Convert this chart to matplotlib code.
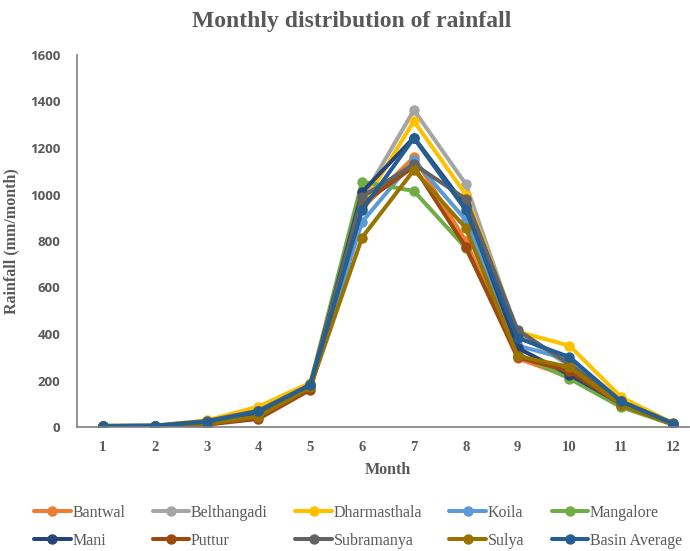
import matplotlib
matplotlib.use("Agg")
import matplotlib.pyplot as plt

months = list(range(1, 13))
stations = ["Bantwal", "Belthangadi", "Dharmasthala", "Koila", "Mangalore",
            "Mani", "Puttur", "Subramanya", "Sulya", "Basin Average"]

bantwal      = [4, 4, 15, 55, 165, 940, 1161, 800, 295, 215, 95, 12]
belthangadi  = [5, 5, 25, 75, 185, 980, 1363, 1045, 400, 265, 115, 15]
dharmasthala = [5, 6, 28, 88, 190, 950, 1316, 1000, 410, 350, 128, 16]
koila        = [4, 5, 22, 60, 180, 882, 1148, 890, 350, 290, 105, 14]
mangalore    = [3, 3, 12, 45, 185, 1055, 1015, 770, 315, 208, 85, 10]
mani         = [4, 5, 20, 60, 178, 1010, 1245, 950, 340, 225, 100, 13]
puttur       = [3, 4, 10, 35, 160, 960, 1120, 774, 300, 240, 95, 11]
subramanya   = [5, 6, 26, 70, 182, 990, 1130, 981, 417, 270, 110, 16]
sulya        = [4, 4, 14, 45, 170, 815, 1105, 856, 305, 258, 95, 12]
basin_avg    = [4, 5, 22, 68, 180, 933, 1243, 933, 383, 301, 110, 15]

series = [bantwal, belthangadi, dharmasthala, koila, mangalore,
          mani, puttur, subramanya, sulya, basin_avg]
colors = ["#ED7D31", "#A5A5A5", "#FFC000", "#5B9BD5", "#70AD47",
          "#264478", "#9E480E", "#636363", "#997300", "#255E91"]

fig = plt.figure(figsize=(6.9, 5.51), dpi=100)
ax = fig.add_axes([77/690, 1-427/551, (699-77)/690, (427-55)/551])

handles = []
for name, vals, c in zip(stations, series, colors):
    h, = ax.plot(months, vals, color=c, lw=2.9, marker="o", ms=6.5,
                 label=name, solid_capstyle="round", solid_joinstyle="round")
    handles.append(h)

ax.set_xlim(0.5, 12.5)
ax.set_ylim(0, 1600)
ax.set_yticks(range(0, 1601, 200))
ax.set_xticks(months)
for s in ["top", "right"]:
    ax.spines[s].set_visible(False)
for s in ["left", "bottom"]:
    ax.spines[s].set_color("#7f7f7f")
    ax.spines[s].set_linewidth(1.2)
ax.tick_params(length=0, colors="#595959")
ax.tick_params(axis="y", pad=12)
ax.tick_params(axis="x", pad=10)
for t in ax.get_yticklabels():
    t.set_fontfamily("Open Sans")
    t.set_fontweight("bold")
    t.set_fontsize(9.5)
for t in ax.get_xticklabels():
    t.set_fontfamily("Liberation Serif")
    t.set_fontweight("bold")
    t.set_fontsize(10.5)

ax.set_xlabel("Month", fontfamily="Liberation Serif", fontweight="bold",
              fontsize=11.5, color="#595959", labelpad=6)
ax.set_ylabel("Rainfall (mm/month)", fontfamily="Liberation Serif", fontweight="bold",
              fontsize=11.5, color="#595959", labelpad=4)
ax.yaxis.set_label_coords(-58/622, 0.5)

fig.text(352/690, 1-22/551, "Monthly distribution of rainfall", ha="center", va="center",
         fontfamily="Liberation Serif", fontweight="bold", fontsize=17, color="#595959")

# legend fills row-wise in the reference; matplotlib fills column-wise
order = [0, 5, 1, 6, 2, 7, 3, 8, 4, 9]
leg = fig.legend(handles=[handles[i] for i in order],
                 labels=[stations[i] for i in order], ncol=5, loc="center left",
                 bbox_to_anchor=(34/690, 1-527/551, 648/690, 0.0), mode="expand",
                 frameon=False, prop={"family": "Liberation Serif", "size": 11.5},
                 handlelength=2.3, handletextpad=0.1, labelspacing=0.75,
                 borderaxespad=0, borderpad=0)
for t in leg.get_texts():
    t.set_color("#595959")

fig.savefig("out.png", dpi=100)
